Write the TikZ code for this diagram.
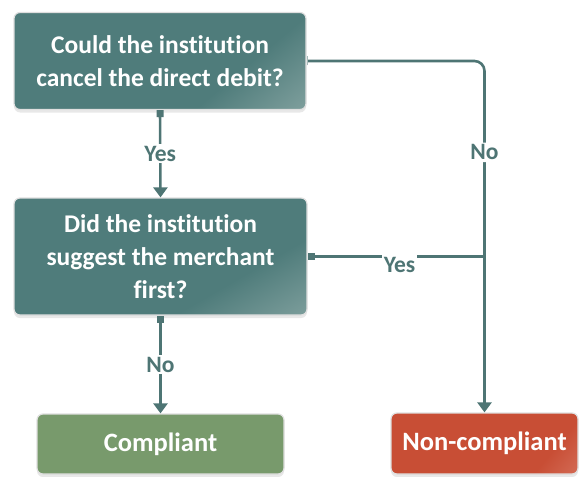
\documentclass[tikz,border=0pt]{standalone}
\usepackage{fontspec}
\setmainfont{Carlito}[Ligatures=NoCommon]
\usetikzlibrary{arrows.meta,shadows}

\definecolor{tealdark}{HTML}{4F7C7B}
\definecolor{teallight}{HTML}{A3BAB7}
\definecolor{linecol}{HTML}{4E7574}
\definecolor{greenbox}{HTML}{789A6C}
\definecolor{redbox}{HTML}{C84E35}
\definecolor{redlight}{HTML}{E08A78}

\pgfdeclarehorizontalshading{tealshade}{100bp}{color(0bp)=(tealdark); color(66bp)=(tealdark); color(100bp)=(teallight)}
\pgfdeclarehorizontalshading{redshade}{100bp}{color(0bp)=(redbox); color(72bp)=(redbox); color(100bp)=(redlight)}

\tikzset{
  box/.style={rounded corners=6pt, draw=gray!25, line width=1.2pt, text=white,
    font=\fontsize{25.5}{33}\selectfont\bfseries, align=center, inner sep=0pt,
    drop shadow={opacity=.18, shadow xshift=0pt, shadow yshift=-3pt}},
  question/.style={box, shading=tealshade, shading angle=-50},
  result/.style={box, font=\fontsize{26.5}{30}\selectfont\bfseries},
  flow/.style={draw=linecol, line width=2.6pt,
    {Square[length=7pt,width=7pt]}-{Triangle[width=14pt,length=10pt]}},
  lbl/.style={fill=white, text=linecol, inner sep=2pt,
    font=\fontsize{23.5}{25}\selectfont\bfseries}
}

\begin{document}
\begin{tikzpicture}[x=1pt,y=-1pt]
%\draw[help lines] (0,0) grid[step=20] (580,476);
\useasboundingbox (0,0) rectangle (580,476);

\node[question, minimum width=292pt, minimum height=97pt] (canc) at (160,61)
  {Could the institution\\cancel the direct debit?};
\node[question, shading angle=-60, minimum width=293pt, minimum height=117pt] (sugg) at (160.5,256.5)
  {Did the institution\\suggest the merchant\\first?};
\node[result, fill=greenbox, minimum width=247pt, minimum height=60pt] (comp) at (160.5,444)
  {Compliant};
\node[result, shading=redshade, shading angle=-40, minimum width=187pt, minimum height=61pt] (ncomp) at (484.5,443.5)
  {Non-compliant};

\draw[flow] (canc.south) -- node[lbl]{Yes} (sugg.north);
\draw[flow] (sugg.south) -- node[lbl]{No} (comp.north);

% cancel -> no -> non-compliant
\draw[flow, {Bar[width=9pt,line width=1pt,color=linecol!50]}-{Triangle[width=14pt,length=10pt]}, rounded corners=10pt]
  (canc.east) -| node[lbl, pos=.63]{No} (ncomp.north);
% suggest -> yes joins the same line
\draw[draw=linecol, line width=2.6pt, {Square[length=7pt,width=7pt]}-]
  (sugg.east) -- node[lbl, pos=.52, yshift=-8pt]{Yes} (sugg.east -| ncomp.north);
\end{tikzpicture}
\end{document}
